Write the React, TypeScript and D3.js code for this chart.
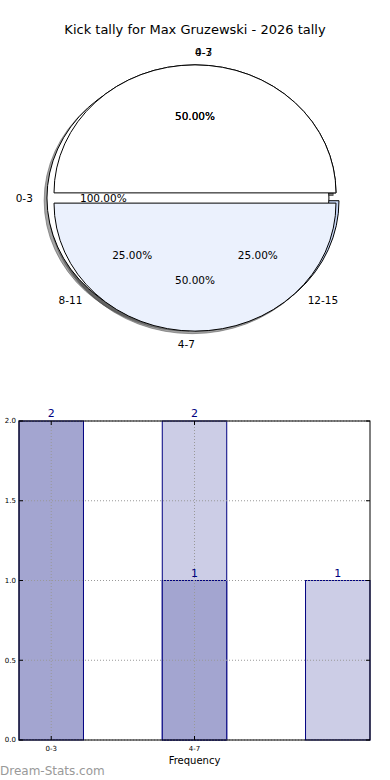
import React from 'react';
import * as d3 from 'd3';

const titleText = 'Kick tally for Max Gruzewski - 2026 tally';

// three overlaid pies (drawn in this order: C, A, B)
const pieCLabels = ['4-7', '8-11', '12-15'];
const pieCValues = [2, 1, 1];
const pieCColors = ['#ffffff', '#c6d6f6', '#c6d6f6'];
const pieCExplode = [0.04, 0.03, 0.03];

const pieALabels = ['0-3'];
const pieAValues = [2];
const pieAColors = ['#ffffff'];
const pieAExplode = [0.05];

const pieBLabels = ['0-3', '4-7'];
const pieBValues = [2, 2];
const pieBColors = ['#ffffff', '#ebf1fd'];
const pieBExplode = [0.04, 0.04];

// histogram
const histTickLabels = ['0-3', '4-7'];
const darkValues = [2, 1, 0];
const lightValues = [0, 2, 1];
const yTicks = [0, 0.5, 1, 1.5, 2];

const FONT = '"DejaVu Sans", sans-serif';

interface Wedge {
  label: string;
  value: number;
  color: string;
  t1: number;
  t2: number;
  tm: number;
  ox: number;
  oy: number;
}

function buildPie(labels: string[], values: number[], colors: string[], explode: number[]): Wedge[] {
  const total = d3.sum(values);
  let cum = 0;
  return values.map((v, i) => {
    const t1 = 2 * Math.PI * cum;
    cum += v / total;
    const t2 = 2 * Math.PI * cum;
    const tm = (t1 + t2) / 2;
    return {
      label: labels[i],
      value: v / total,
      color: colors[i],
      t1,
      t2,
      tm,
      ox: explode[i] * Math.cos(tm),
      oy: explode[i] * Math.sin(tm),
    };
  });
}

const App: React.FC = () => {
  const W = 390;
  const H = 780;

  // pie geometry (ellipse because the axes aspect isn't equal)
  const cx = 195;
  const cy = 198;
  const rx = 141;
  const ry = 128;

  const pies = [
    buildPie(pieCLabels, pieCValues, pieCColors, pieCExplode),
    buildPie(pieALabels, pieAValues, pieAColors, pieAExplode),
    buildPie(pieBLabels, pieBValues, pieBColors, pieBExplode),
  ];
  const allWedges = pies.flat();

  const arc = d3.arc<any>().innerRadius(0).outerRadius(1);
  // matplotlib angles (ccw from 3 o'clock) -> d3 angles (cw from 12 o'clock)
  const wedgePath = (w: Wedge) =>
    arc({ startAngle: Math.PI / 2 - w.t2, endAngle: Math.PI / 2 - w.t1 }) || '';

  const sx = (x: number) => cx + x * rx;
  const sy = (y: number) => cy - y * ry;

  // histogram scales
  const margin = { left: 19, right: 370, top: 421, bottom: 740 };
  const x = d3.scaleLinear().domain([-0.225, 2.225]).range([margin.left, margin.right]);
  const y = d3.scaleLinear().domain([0, 2]).range([margin.bottom, margin.top]);
  const barW = x(0.45) - x(0);

  const bars = (vals: number[], fill: string) =>
    vals.map((v, i) =>
      v > 0 ? (
        <rect
          key={`${fill}-${i}`}
          x={x(i) - barW / 2}
          y={y(v)}
          width={barW}
          height={y(0) - y(v)}
          fill={fill}
          stroke="#000080"
          strokeWidth={1}
        />
      ) : null
    );

  const valueLabels = (vals: number[], key: string) =>
    vals.map((v, i) =>
      v > 0 ? (
        <text
          key={`${key}-${i}`}
          x={x(i)}
          y={y(v) - 4}
          textAnchor="middle"
          fontSize={11}
          fill="#000080"
        >
          {v}
        </text>
      ) : null
    );

  return (
    <svg
      width={W}
      height={H}
      style={{ position: 'absolute', left: 0, top: 0, background: '#fff' }}
      fontFamily={FONT}
    >
      <text x={195} y={34} textAnchor="middle" fontSize={13} fill="#000">
        {titleText}
      </text>

      {/* shadows first, like matplotlib's zorder */}
      {allWedges.map((w, i) => (
        <path
          key={`sh-${i}`}
          d={wedgePath(w)}
          transform={`translate(${sx(w.ox - 0.02)},${sy(w.oy - 0.02)}) scale(${rx},${ry})`}
          fill="#4d4d4d"
          fillOpacity={0.5}
          stroke="#4d4d4d"
          strokeOpacity={0.5}
          strokeWidth={1}
          vectorEffect="non-scaling-stroke"
        />
      ))}

      {allWedges.map((w, i) => (
        <path
          key={`w-${i}`}
          d={wedgePath(w)}
          transform={`translate(${sx(w.ox)},${sy(w.oy)}) scale(${rx},${ry})`}
          fill={w.color}
          stroke="#000"
          strokeWidth={1}
          vectorEffect="non-scaling-stroke"
        />
      ))}

      {allWedges.map((w, i) => {
        const xt = w.ox + 1.1 * Math.cos(w.tm);
        const yt = w.oy + 1.1 * Math.sin(w.tm);
        const xp = w.ox + 0.6 * Math.cos(w.tm);
        const yp = w.oy + 0.6 * Math.sin(w.tm);
        return (
          <g key={`t-${i}`} fontSize={10.5} fill="#000">
            <text
              x={sx(xt)}
              y={sy(yt)}
              dy="0.35em"
              textAnchor={xt > 0 ? 'start' : 'end'}
            >
              {w.label}
            </text>
            <text x={sx(xp)} y={sy(yp)} dy="0.35em" textAnchor="middle">
              {`${(w.value * 100).toFixed(2)}%`}
            </text>
          </g>
        );
      })}

      {/* histogram */}
      {bars(lightValues, '#cccde6')}
      {bars(darkValues, '#a3a5d0')}

      <g stroke="#999" strokeWidth={1} strokeDasharray="1,2">
        {yTicks.map(t => (
          <line key={`gy-${t}`} x1={margin.left} x2={margin.right} y1={y(t)} y2={y(t)} />
        ))}
        {histTickLabels.map((_, i) => (
          <line key={`gx-${i}`} x1={x(i)} x2={x(i)} y1={margin.top} y2={margin.bottom} />
        ))}
      </g>

      <rect
        x={margin.left}
        y={margin.top}
        width={margin.right - margin.left}
        height={margin.bottom - margin.top}
        fill="none"
        stroke="#000"
        strokeWidth={1}
      />

      <g stroke="#000" strokeWidth={1}>
        {yTicks.map(t => (
          <g key={`ty-${t}`}>
            <line x1={margin.left} x2={margin.left + 4} y1={y(t)} y2={y(t)} />
            <line x1={margin.right - 4} x2={margin.right} y1={y(t)} y2={y(t)} />
          </g>
        ))}
        {histTickLabels.map((_, i) => (
          <g key={`tx-${i}`}>
            <line x1={x(i)} x2={x(i)} y1={margin.bottom} y2={margin.bottom - 4} />
            <line x1={x(i)} x2={x(i)} y1={margin.top} y2={margin.top + 4} />
          </g>
        ))}
      </g>

      {yTicks.map(t => (
        <text
          key={`yl-${t}`}
          x={margin.left - 3}
          y={y(t)}
          dy="0.35em"
          textAnchor="end"
          fontSize={7}
          fill="#000"
        >
          {d3.format('.1f')(t)}
        </text>
      ))}
      {histTickLabels.map((l, i) => (
        <text key={`xl-${i}`} x={x(i)} y={751} textAnchor="middle" fontSize={7} fill="#000">
          {l}
        </text>
      ))}

      {valueLabels(lightValues, 'lv')}
      {valueLabels(darkValues, 'dv')}

      <text x={x(1)} y={764} textAnchor="middle" fontSize={10} fill="#000">
        Frequency
      </text>
      <text x={0} y={775} fontSize={12} fill="#999">
        Dream-Stats.com
      </text>
    </svg>
  );
};

export default App;
